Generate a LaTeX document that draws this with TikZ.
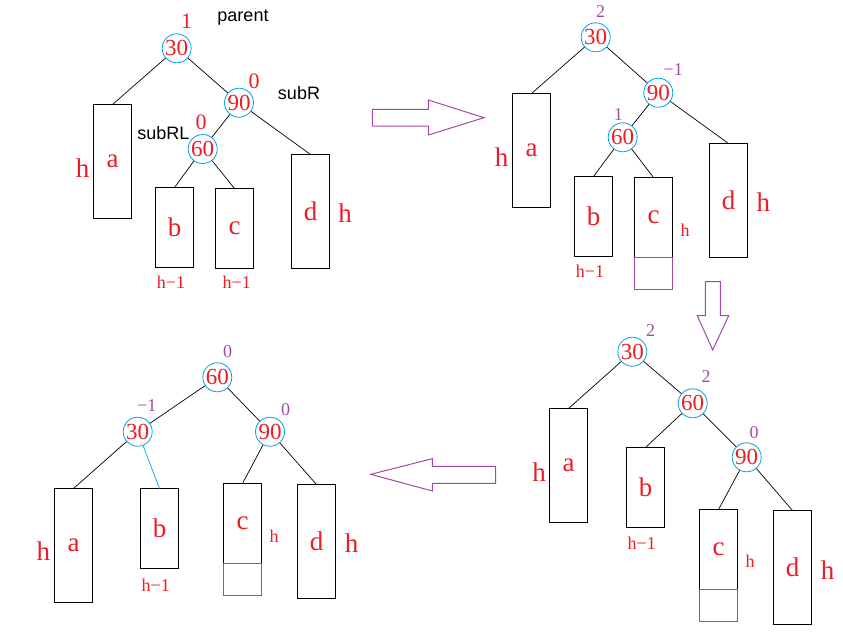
\documentclass[tikz,border=0pt]{standalone}
\usepackage{fontspec}
\setmainfont{Liberation Serif}
\newfontfamily\tagfont{Liberation Sans}
\usetikzlibrary{positioning}
\definecolor{BfRed}{HTML}{ED1C24}
\definecolor{BfPurple}{HTML}{A349A4}
\definecolor{Ring}{HTML}{00A2E8}

\begin{document}
\begin{tikzpicture}[x=1pt,y=-1pt,node distance=0pt,
  keynode/.style={circle,draw=Ring,line width=.8pt,minimum size=29pt,inner sep=0pt,text=BfRed,font=\fontsize{23}{23}\selectfont},
  subtree/.style={draw,line width=1pt,minimum width=38pt,inner sep=0pt,outer sep=0pt,text=BfRed,font=\fontsize{27}{27}\selectfont},
  tall/.style={subtree,minimum height=114pt},
  short/.style={subtree,minimum height=80pt},
  growbox/.style={draw=BfPurple,line width=1pt,minimum width=38pt,minimum height=32pt,inner sep=0pt,outer sep=0pt},
  ht/.style={text=BfRed,inner sep=0pt,font=\fontsize{27}{27}\selectfont},
  hs/.style={text=BfRed,inner sep=0pt,font=\fontsize{18}{18}\selectfont},
  bf/.style={text=BfPurple,inner sep=0pt,font=\fontsize{18}{18}\selectfont},
  bfred/.style={text=BfRed,inner sep=0pt,font=\fontsize{22}{22}\selectfont},
  tag/.style={inner sep=0pt,font=\tagfont\fontsize{18}{18}\selectfont},
  link/.style={line width=.7pt},
  fat/.style={draw=BfPurple,line width=1pt,line join=miter}]
\useasboundingbox (0,0) rectangle (843,635);

\node[keynode] (s1n30) at (176.7,48.3) {30};
\node[keynode] (s1n90) at (239,102.7) {90};
\node[keynode] (s1n60) at (202.7,149) {60};
\node[tall] (s1a) at (112.5,161.5) {a};
\node[short] (s1b) at (174.5,227.5) {b};
\node[short] (s1c) at (234.5,228.5) {c};
\node[tall] (s1d) at (310.5,211.5) {d};
\node[bfred] (s1f30) at (186.7,21.7) {1};
\node[bfred] (s1f90) at (254,81.7) {0};
\node[bfred] (s1f60) at (201,122.7) {0};
\node[tag] (s1par) at (243,18) {parent};
\node[tag] (s1subr) at (299,92.7) {subR};
\node[tag] (s1subrl) at (163.3,133.3) {subRL};
\node[ht] (s1ha) at (82.7,168.3) {h};
\node[ht] (s1hd) at (345,213) {h};
\node[hs] (s1hb) at (171,282.7) {h−1};
\node[hs] (s1hc) at (236.7,282.7) {h−1};
\draw[link] (s1n30)--(s1a.north);
\draw[link] (s1n30)--(s1n90);
\draw[link] (s1n90)--(s1n60);
\draw[link] (s1n90)--(s1d.north);
\draw[link] (s1n60)--(s1b.north);
\draw[link] (s1n60)--(s1c.north);

\draw[fat] (372.3,109.3)--(428.3,109.3)--(428.3,100)--(484,117.7)--(428.3,135)--(428.3,126)--(372.3,126)--cycle;

\node[keynode] (s2n30) at (595.7,37.3) {30};
\node[keynode] (s2n90) at (658.3,92.7) {90};
\node[keynode] (s2n60) at (622.7,137.3) {60};
\node[tall] (s2a) at (531.5,150.5) {a};
\node[short] (s2b) at (593.5,216.5) {b};
\node[short] (s2c) at (653.5,217.5) {c};
\node[growbox,below=of s2c] (s2g) {};
\node[tall] (s2d) at (728.5,200.5) {d};
\node[bf] (s2f30) at (600.7,11.7) {2};
\node[bf] (s2f90) at (673.3,69.3) {−1};
\node[bf] (s2f60) at (618.3,115) {1};
\node[ht] (s2ha) at (501.7,156.7) {h};
\node[hs] (s2hc) at (685,230) {h};
\node[ht] (s2hd) at (763.3,201.7) {h};
\node[hs] (s2hb) at (590,271.7) {h−1};
\draw[link] (s2n30)--(s2a.north);
\draw[link] (s2n30)--(s2n90);
\draw[link] (s2n90)--(s2n60);
\draw[link] (s2n90)--(s2d.north);
\draw[link] (s2n60)--(s2b.north);
\draw[link] (s2n60)--(s2c.north);

\draw[fat] (705.3,281.7)--(720.3,281.7)--(720.3,315.7)--(728.7,315.7)--(712.7,350)--(697.3,315.7)--(705.3,315.7)--cycle;

\node[keynode] (s3n30) at (632.3,351.7) {30};
\node[keynode] (s3n60) at (692.7,403.3) {60};
\node[keynode] (s3n90) at (746.7,457.3) {90};
\node[tall] (s3a) at (568.5,465.5) {a};
\node[short] (s3b) at (645.5,487.5) {b};
\node[short] (s3c) at (718.5,549.5) {c};
\node[growbox,below=of s3c] (s3g) {};
\node[tall] (s3d) at (792.5,567.5) {d};
\node[bf] (s3f30) at (650.7,330.7) {2};
\node[bf] (s3f60) at (706,376.7) {2};
\node[bf] (s3f90) at (754,432.7) {0};
\node[ht] (s3ha) at (539,471.7) {h};
\node[hs] (s3hb) at (641.7,543.3) {h−1};
\node[hs] (s3hc) at (750,561.7) {h};
\node[ht] (s3hd) at (827.7,570) {h};
\draw[link] (s3n30)--(s3a.north);
\draw[link] (s3n30)--(s3n60);
\draw[link] (s3n60)--(s3b.north);
\draw[link] (s3n60)--(s3n90);
\draw[link] (s3n90)--(s3c.north);
\draw[link] (s3n90)--(s3d.north);

\draw[fat] (495.7,466.3)--(432.3,466.3)--(432.3,458.7)--(370.7,474.3)--(432.3,491)--(432.3,483.3)--(495.7,483.3)--cycle;

\node[keynode] (s4n60) at (217.3,377.3) {60};
\node[keynode] (s4n30) at (137.7,431.7) {30};
\node[keynode] (s4n90) at (270,431.7) {90};
\node[tall] (s4a) at (73.5,545.5) {a};
\node[short] (s4b) at (159.5,528.5) {b};
\node[short] (s4c) at (242.5,523.5) {c};
\node[growbox,below=of s4c] (s4g) {};
\node[tall] (s4d) at (316.5,541.5) {d};
\node[bf] (s4f60) at (227.7,351.7) {0};
\node[bf] (s4f30) at (146.7,406) {−1};
\node[bf] (s4f90) at (285.7,410) {0};
\node[ht] (s4ha) at (43.3,550.7) {h};
\node[hs] (s4hb) at (155.7,585) {h−1};
\node[hs] (s4hc) at (274,536) {h};
\node[ht] (s4hd) at (351.7,543.3) {h};
\draw[link] (s4n60)--(s4n30);
\draw[link] (s4n60)--(s4n90);
\draw[link] (s4n30)--(s4a.north);
\draw[link,Ring] (s4n30)--(s4b.north);
\draw[link] (s4n90)--(s4c.north);
\draw[link] (s4n90)--(s4d.north);
\end{tikzpicture}
\end{document}
